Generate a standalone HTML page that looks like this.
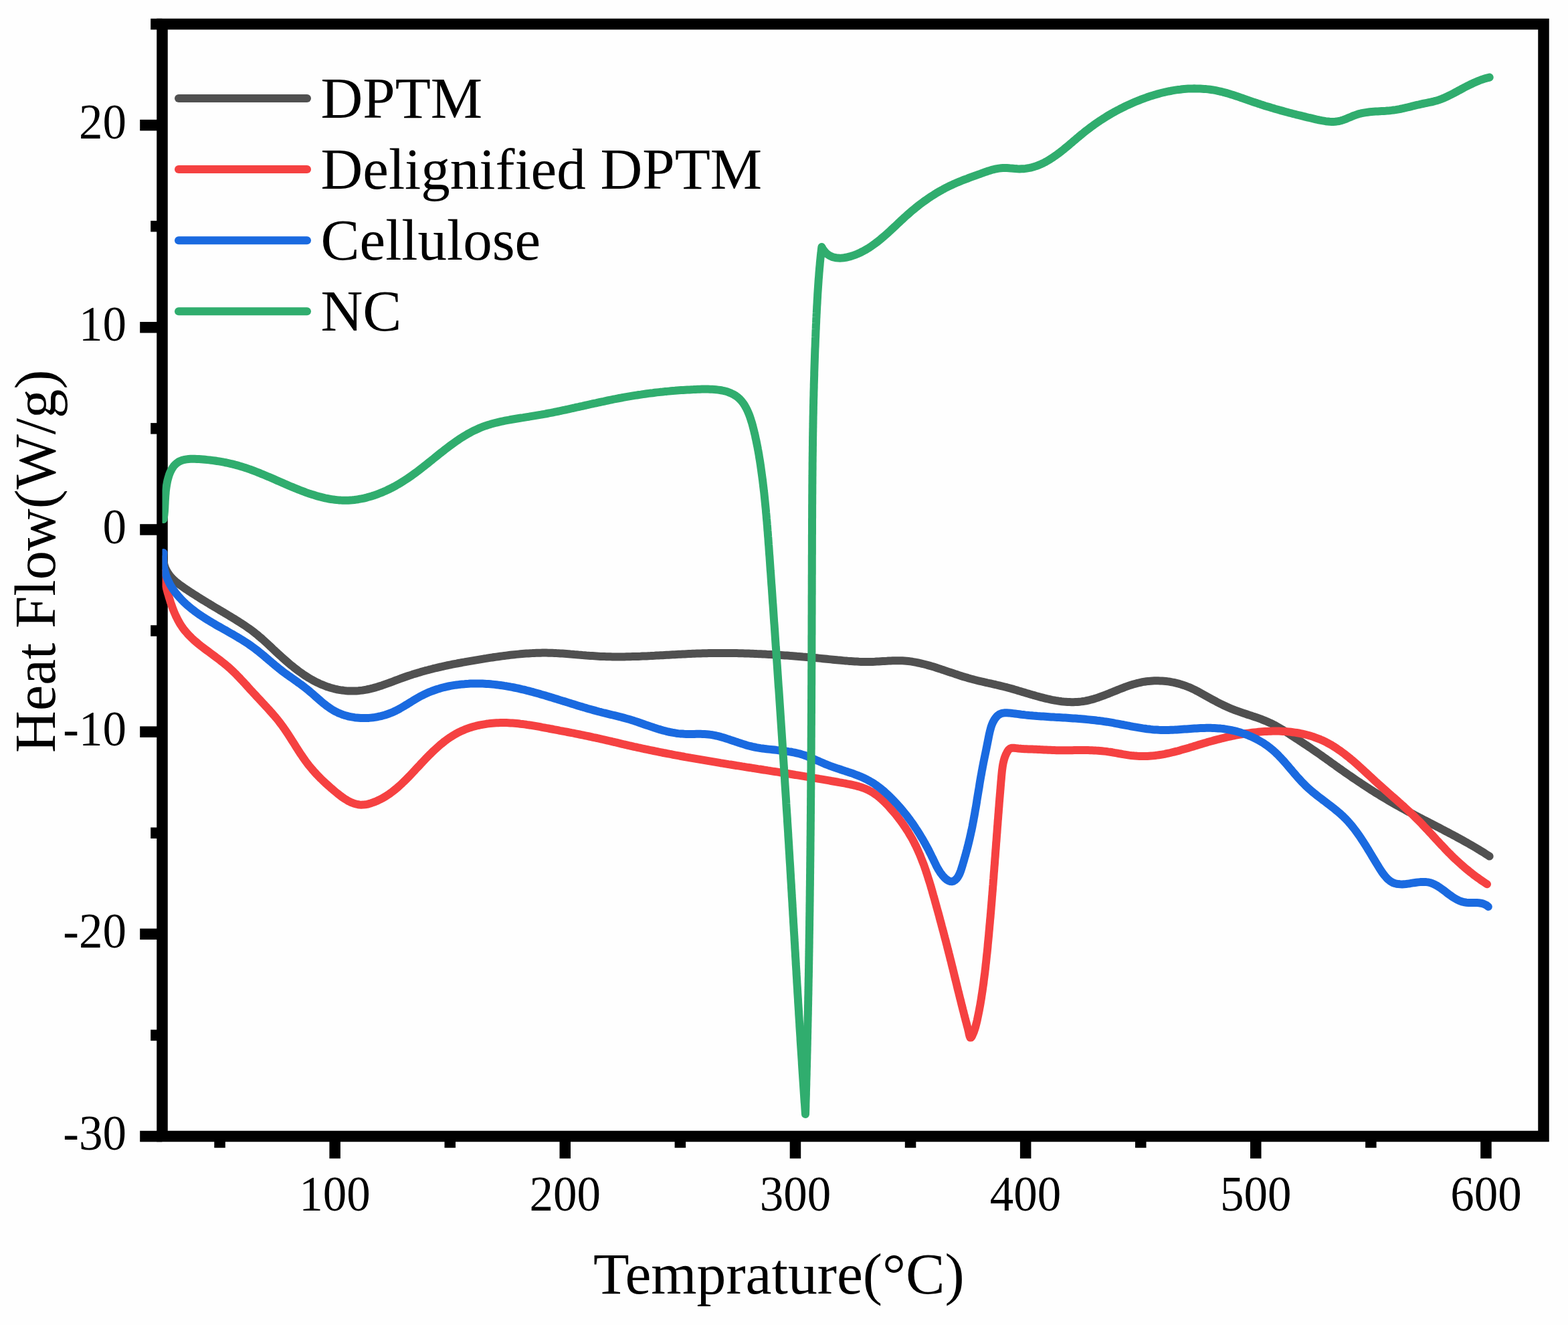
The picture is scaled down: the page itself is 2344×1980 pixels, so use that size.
<!DOCTYPE html>
<html><head><meta charset="utf-8"><title>Heat Flow vs Temperature</title>
<style>
html,body{margin:0;padding:0;background:#fff;}
body{width:2344px;height:1980px;overflow:hidden;}
svg{display:block;}
text{font-family:"Liberation Serif","Times New Roman",serif;fill:#000;}
</style></head><body>
<svg xmlns="http://www.w3.org/2000/svg" width="2344" height="1980" viewBox="0 0 2344 1980">
<rect width="2344" height="1980" fill="#fefefe"/>
<g fill="#000">
<rect x="320.3" y="1698" width="16.5" height="17.2"/>
<rect x="492.4" y="1698" width="16.5" height="33.2"/>
<rect x="664.5" y="1698" width="16.5" height="17.2"/>
<rect x="836.5" y="1698" width="16.5" height="33.2"/>
<rect x="1008.6" y="1698" width="16.5" height="17.2"/>
<rect x="1180.7" y="1698" width="16.5" height="33.2"/>
<rect x="1352.8" y="1698" width="16.5" height="17.2"/>
<rect x="1524.9" y="1698" width="16.5" height="33.2"/>
<rect x="1697" y="1698" width="16.5" height="17.2"/>
<rect x="1869" y="1698" width="16.5" height="33.2"/>
<rect x="2041.1" y="1698" width="16.5" height="17.2"/>
<rect x="2213.2" y="1698" width="16.5" height="33.2"/>
<rect x="209.2" y="1689.8" width="33.2" height="16.5"/>
<rect x="225.2" y="1538.7" width="17.2" height="16.5"/>
<rect x="209.2" y="1387.6" width="33.2" height="16.5"/>
<rect x="225.2" y="1236.5" width="17.2" height="16.5"/>
<rect x="209.2" y="1085.4" width="33.2" height="16.5"/>
<rect x="225.2" y="934.3" width="17.2" height="16.5"/>
<rect x="209.2" y="783.2" width="33.2" height="16.5"/>
<rect x="225.2" y="632.1" width="17.2" height="16.5"/>
<rect x="209.2" y="481" width="33.2" height="16.5"/>
<rect x="225.2" y="329.9" width="17.2" height="16.5"/>
<rect x="209.2" y="178.8" width="33.2" height="16.5"/>
<rect x="225.2" y="27.8" width="17.2" height="16.5"/>
</g>
<rect x="242.5" y="36" width="2065" height="1662" fill="none" stroke="#000" stroke-width="16.5"/>
<g font-size="71" text-anchor="middle">
<text transform="translate(500.6,1808.5) scale(1,1.055)">100</text>
<text transform="translate(844.8,1808.5) scale(1,1.055)">200</text>
<text transform="translate(1189,1808.5) scale(1,1.055)">300</text>
<text transform="translate(1533.1,1808.5) scale(1,1.055)">400</text>
<text transform="translate(1877.3,1808.5) scale(1,1.055)">500</text>
<text transform="translate(2221.5,1808.5) scale(1,1.055)">600</text>
</g>
<g font-size="71" text-anchor="end">
<text transform="translate(189,1718) scale(1,1.055)">-30</text>
<text transform="translate(189,1415.8) scale(1,1.055)">-20</text>
<text transform="translate(189,1113.6) scale(1,1.055)">-10</text>
<text transform="translate(189,811.5) scale(1,1.055)">0</text>
<text transform="translate(189,509.3) scale(1,1.055)">10</text>
<text transform="translate(189,207.1) scale(1,1.055)">20</text>
</g>
<text x="887" y="1932.6" font-size="87.7">Temprature(°C)</text>
<text transform="translate(81.7,1125.1) rotate(-90)" font-size="87">Heat Flow(W/g)</text>
<defs><clipPath id="pc"><rect x="242.5" y="36" width="2065" height="1662"/></clipPath></defs>
<g fill="none" stroke-width="12" stroke-linecap="round" stroke-linejoin="round" clip-path="url(#pc)">
<path d="M244.0 836.0L244.5 839.4L245.2 842.6L246.0 845.7L247.1 848.6L248.3 851.3L249.7 854.0L251.2 856.4L252.8 858.8L254.6 861.1L256.5 863.2L258.5 865.3L260.6 867.3L262.7 869.2L265.0 871.0L267.3 872.8L269.6 874.5L272.0 876.2L274.4 877.9L276.8 879.6L279.3 881.2L281.7 882.9L284.2 884.5L286.7 886.1L289.2 887.7L291.7 889.3L294.2 890.9L296.8 892.5L299.3 894.1L301.8 895.7L304.4 897.2L306.9 898.8L309.5 900.4L312.1 901.9L314.6 903.5L317.2 905.0L319.8 906.6L322.4 908.1L325.0 909.6L327.6 911.2L330.2 912.7L332.8 914.3L335.4 915.8L338.0 917.4L340.5 918.9L343.1 920.5L345.7 922.0L348.3 923.6L350.9 925.2L353.5 926.8L356.0 928.4L358.5 930.0L361.1 931.6L363.6 933.2L366.1 934.9L368.6 936.6L371.0 938.3L373.5 940.0L375.9 941.8L378.2 943.6L380.6 945.4L382.9 947.3L385.2 949.1L387.5 951.1L389.8 953.0L392.0 954.9L394.2 956.9L396.4 958.9L398.6 960.9L400.8 962.9L403.0 965.0L405.2 967.0L407.3 969.1L409.5 971.1L411.7 973.2L413.9 975.2L416.1 977.3L418.3 979.3L420.6 981.3L422.8 983.4L425.1 985.4L427.4 987.4L429.7 989.4L432.0 991.4L434.3 993.3L436.7 995.2L439.1 997.2L441.4 999.0L443.9 1000.9L446.3 1002.7L448.8 1004.5L451.2 1006.2L453.7 1008.0L456.2 1009.6L458.8 1011.3L461.3 1012.9L463.9 1014.4L466.5 1015.9L469.2 1017.3L471.8 1018.7L474.5 1020.1L477.2 1021.3L479.9 1022.6L482.7 1023.7L485.4 1024.8L488.2 1025.9L491.1 1026.8L493.9 1027.7L496.8 1028.5L499.7 1029.3L502.6 1030.0L505.5 1030.6L508.5 1031.1L511.5 1031.5L514.5 1031.9L517.5 1032.2L520.5 1032.4L523.5 1032.5L526.6 1032.6L529.6 1032.5L532.6 1032.4L535.6 1032.2L538.6 1031.9L541.6 1031.6L544.5 1031.1L547.5 1030.6L550.4 1030.0L553.3 1029.4L556.2 1028.7L559.1 1027.9L562.0 1027.1L564.8 1026.2L567.7 1025.3L570.6 1024.4L573.4 1023.4L576.2 1022.4L579.1 1021.4L581.9 1020.4L584.7 1019.3L587.5 1018.3L590.4 1017.2L593.2 1016.1L596.0 1015.1L598.8 1014.0L601.7 1013.0L604.5 1012.0L607.3 1011.0L610.2 1010.0L613.0 1009.1L615.9 1008.2L618.7 1007.2L621.6 1006.4L624.5 1005.5L627.3 1004.7L630.2 1003.8L633.1 1003.0L635.9 1002.2L638.8 1001.5L641.7 1000.7L644.6 1000.0L647.5 999.2L650.4 998.5L653.3 997.8L656.2 997.1L659.1 996.5L662.0 995.8L664.9 995.2L667.8 994.5L670.8 993.9L673.7 993.3L676.6 992.7L679.5 992.1L682.5 991.6L685.4 991.0L688.4 990.5L691.3 989.9L694.3 989.4L697.2 988.8L700.2 988.3L703.1 987.8L706.1 987.3L709.0 986.8L712.0 986.3L715.0 985.8L717.9 985.3L720.9 984.8L723.9 984.3L726.9 983.9L729.8 983.4L732.8 982.9L735.8 982.5L738.8 982.0L741.8 981.6L744.8 981.2L747.8 980.8L750.8 980.4L753.8 980.0L756.8 979.6L759.8 979.2L762.8 978.8L765.8 978.5L768.8 978.2L771.8 977.9L774.8 977.6L777.8 977.3L780.8 977.0L783.8 976.8L786.8 976.6L789.8 976.4L792.8 976.2L795.8 976.1L798.8 975.9L801.8 975.8L804.8 975.7L807.8 975.7L810.8 975.6L813.8 975.6L816.8 975.6L819.8 975.7L822.8 975.7L825.8 975.8L828.8 975.9L831.8 976.1L834.8 976.2L837.8 976.4L840.8 976.6L843.7 976.8L846.7 977.0L849.7 977.2L852.7 977.5L855.7 977.7L858.7 978.0L861.7 978.2L864.7 978.5L867.7 978.7L870.6 979.0L873.6 979.2L876.6 979.5L879.6 979.7L882.6 979.9L885.6 980.1L888.6 980.3L891.6 980.5L894.6 980.7L897.6 980.9L900.5 981.0L903.5 981.1L906.5 981.2L909.5 981.3L912.5 981.3L915.5 981.4L918.5 981.4L921.5 981.4L924.5 981.5L927.5 981.4L930.5 981.4L933.5 981.4L936.5 981.3L939.5 981.3L942.5 981.2L945.5 981.1L948.5 981.1L951.5 981.0L954.5 980.9L957.5 980.8L960.5 980.6L963.5 980.5L966.5 980.4L969.5 980.2L972.5 980.1L975.5 979.9L978.5 979.8L981.5 979.6L984.5 979.5L987.5 979.3L990.5 979.2L993.5 979.0L996.5 978.8L999.5 978.7L1002.5 978.5L1005.5 978.3L1008.5 978.2L1011.5 978.0L1014.5 977.8L1017.5 977.7L1020.5 977.5L1023.5 977.4L1026.5 977.2L1029.5 977.1L1032.5 977.0L1035.5 976.8L1038.5 976.7L1041.5 976.6L1044.5 976.5L1047.5 976.4L1050.5 976.3L1053.5 976.2L1056.5 976.2L1059.5 976.1L1062.5 976.1L1065.5 976.0L1068.5 976.0L1071.5 976.0L1074.5 975.9L1077.5 975.9L1080.5 975.9L1083.5 975.9L1086.4 976.0L1089.4 976.0L1092.4 976.0L1095.4 976.0L1098.4 976.1L1101.4 976.1L1104.4 976.2L1107.4 976.3L1110.4 976.3L1113.4 976.4L1116.4 976.5L1119.4 976.6L1122.4 976.7L1125.4 976.8L1128.4 976.9L1131.4 977.1L1134.4 977.2L1137.4 977.3L1140.3 977.5L1143.3 977.6L1146.3 977.8L1149.3 977.9L1152.3 978.1L1155.3 978.3L1158.3 978.4L1161.3 978.6L1164.3 978.8L1167.3 979.0L1170.3 979.2L1173.3 979.4L1176.3 979.6L1179.3 979.8L1182.2 980.1L1185.2 980.3L1188.2 980.5L1191.2 980.8L1194.2 981.0L1197.2 981.2L1200.2 981.5L1203.2 981.7L1206.2 982.0L1209.2 982.3L1212.2 982.5L1215.2 982.8L1218.2 983.1L1221.2 983.3L1224.2 983.6L1227.1 983.9L1230.1 984.2L1233.1 984.5L1236.1 984.8L1239.1 985.1L1242.1 985.4L1245.1 985.7L1248.1 986.0L1251.1 986.3L1254.1 986.6L1257.1 986.8L1260.1 987.1L1263.1 987.4L1266.1 987.6L1269.0 987.9L1272.0 988.1L1275.0 988.3L1278.0 988.5L1281.0 988.6L1284.0 988.8L1287.0 988.9L1289.9 988.9L1292.9 989.0L1295.9 989.0L1298.9 989.0L1301.8 989.0L1304.8 988.9L1307.8 988.8L1310.7 988.6L1313.7 988.5L1316.7 988.3L1319.6 988.1L1322.6 987.9L1325.6 987.8L1328.5 987.6L1331.5 987.4L1334.4 987.3L1337.4 987.2L1340.3 987.2L1343.3 987.2L1346.2 987.2L1349.1 987.3L1352.1 987.5L1355.0 987.7L1358.0 988.0L1360.9 988.4L1363.8 988.8L1366.8 989.3L1369.7 989.9L1372.6 990.5L1375.6 991.1L1378.5 991.8L1381.4 992.5L1384.4 993.3L1387.3 994.1L1390.2 994.9L1393.1 995.7L1396.0 996.6L1398.9 997.5L1401.8 998.5L1404.8 999.4L1407.7 1000.4L1410.6 1001.3L1413.5 1002.3L1416.4 1003.3L1419.2 1004.3L1422.1 1005.2L1425.0 1006.2L1427.9 1007.2L1430.8 1008.1L1433.7 1009.1L1436.5 1010.0L1439.4 1010.9L1442.3 1011.8L1445.1 1012.6L1448.0 1013.5L1450.9 1014.3L1453.7 1015.0L1456.6 1015.8L1459.4 1016.5L1462.2 1017.2L1465.1 1017.9L1467.9 1018.5L1470.8 1019.2L1473.6 1019.8L1476.5 1020.5L1479.3 1021.1L1482.2 1021.7L1485.0 1022.4L1487.9 1023.0L1490.7 1023.7L1493.6 1024.4L1496.5 1025.1L1499.3 1025.8L1502.2 1026.5L1505.1 1027.2L1508.0 1028.0L1510.9 1028.8L1513.8 1029.6L1516.7 1030.5L1519.6 1031.3L1522.5 1032.2L1525.4 1033.0L1528.3 1033.9L1531.3 1034.8L1534.2 1035.7L1537.1 1036.5L1540.1 1037.4L1543.0 1038.3L1545.9 1039.1L1548.9 1040.0L1551.8 1040.8L1554.8 1041.6L1557.7 1042.3L1560.7 1043.1L1563.6 1043.8L1566.6 1044.5L1569.5 1045.2L1572.4 1045.8L1575.4 1046.3L1578.3 1046.9L1581.3 1047.3L1584.2 1047.8L1587.1 1048.2L1590.1 1048.5L1593.0 1048.7L1595.9 1049.0L1598.9 1049.1L1601.8 1049.2L1604.7 1049.2L1607.6 1049.1L1610.5 1049.0L1613.4 1048.7L1616.3 1048.4L1619.2 1048.0L1622.0 1047.6L1624.9 1047.0L1627.8 1046.4L1630.6 1045.6L1633.5 1044.9L1636.4 1044.0L1639.2 1043.1L1642.1 1042.2L1644.9 1041.2L1647.7 1040.2L1650.6 1039.1L1653.4 1038.0L1656.3 1036.9L1659.1 1035.7L1662.0 1034.6L1664.8 1033.4L1667.6 1032.3L1670.5 1031.1L1673.3 1030.0L1676.2 1028.9L1679.0 1027.8L1681.9 1026.7L1684.8 1025.7L1687.6 1024.7L1690.5 1023.7L1693.4 1022.8L1696.3 1022.0L1699.2 1021.2L1702.1 1020.5L1705.0 1019.8L1707.9 1019.2L1710.9 1018.7L1713.8 1018.3L1716.7 1017.9L1719.7 1017.7L1722.6 1017.5L1725.6 1017.3L1728.5 1017.3L1731.5 1017.3L1734.4 1017.4L1737.4 1017.5L1740.3 1017.7L1743.2 1018.0L1746.2 1018.4L1749.1 1018.8L1752.0 1019.4L1754.9 1019.9L1757.8 1020.6L1760.7 1021.3L1763.6 1022.1L1766.4 1023.0L1769.3 1023.9L1772.1 1024.9L1774.9 1026.0L1777.8 1027.1L1780.5 1028.3L1783.3 1029.6L1786.1 1030.9L1788.8 1032.3L1791.5 1033.7L1794.2 1035.2L1796.9 1036.7L1799.6 1038.2L1802.3 1039.7L1805.0 1041.2L1807.7 1042.7L1810.4 1044.2L1813.0 1045.7L1815.7 1047.1L1818.4 1048.6L1821.1 1050.0L1823.8 1051.4L1826.5 1052.7L1829.2 1054.0L1832.0 1055.3L1834.7 1056.5L1837.5 1057.7L1840.3 1058.9L1843.0 1060.0L1845.8 1061.1L1848.6 1062.1L1851.5 1063.1L1854.3 1064.1L1857.1 1065.1L1859.9 1066.1L1862.8 1067.0L1865.6 1068.0L1868.4 1068.9L1871.3 1069.8L1874.1 1070.8L1876.9 1071.7L1879.7 1072.7L1882.5 1073.7L1885.3 1074.7L1888.1 1075.8L1890.8 1076.9L1893.6 1078.0L1896.3 1079.2L1899.0 1080.4L1901.7 1081.7L1904.3 1083.0L1906.9 1084.4L1909.5 1085.9L1912.1 1087.4L1914.6 1088.9L1917.2 1090.4L1919.7 1092.0L1922.3 1093.6L1924.8 1095.2L1927.3 1096.8L1929.8 1098.5L1932.3 1100.1L1934.8 1101.8L1937.3 1103.4L1939.9 1105.1L1942.4 1106.7L1944.9 1108.4L1947.4 1110.0L1949.9 1111.7L1952.5 1113.3L1955.0 1115.0L1957.5 1116.7L1960.0 1118.4L1962.4 1120.1L1964.9 1121.8L1967.4 1123.5L1969.8 1125.2L1972.3 1126.9L1974.8 1128.6L1977.2 1130.4L1979.6 1132.1L1982.1 1133.8L1984.5 1135.6L1987.0 1137.3L1989.4 1139.1L1991.8 1140.8L1994.3 1142.5L1996.7 1144.3L1999.1 1146.0L2001.6 1147.8L2004.0 1149.5L2006.5 1151.2L2008.9 1153.0L2011.4 1154.7L2013.8 1156.4L2016.3 1158.1L2018.8 1159.8L2021.2 1161.5L2023.7 1163.2L2026.2 1164.9L2028.7 1166.6L2031.2 1168.3L2033.7 1169.9L2036.2 1171.6L2038.7 1173.2L2041.2 1174.9L2043.7 1176.5L2046.2 1178.1L2048.7 1179.8L2051.3 1181.4L2053.8 1183.0L2056.3 1184.6L2058.9 1186.2L2061.4 1187.7L2064.0 1189.3L2066.6 1190.9L2069.1 1192.4L2071.7 1193.9L2074.3 1195.5L2076.9 1197.0L2079.5 1198.5L2082.1 1200.0L2084.7 1201.5L2087.3 1203.0L2089.9 1204.4L2092.5 1205.9L2095.2 1207.3L2097.8 1208.8L2100.4 1210.2L2103.1 1211.7L2105.7 1213.1L2108.4 1214.5L2111.0 1215.9L2113.7 1217.3L2116.3 1218.7L2119.0 1220.1L2121.6 1221.5L2124.3 1222.9L2127.0 1224.3L2129.6 1225.7L2132.3 1227.0L2135.0 1228.4L2137.6 1229.8L2140.3 1231.2L2143.0 1232.6L2145.6 1233.9L2148.3 1235.3L2151.0 1236.7L2153.6 1238.1L2156.3 1239.5L2158.9 1240.9L2161.6 1242.3L2164.3 1243.7L2166.9 1245.1L2169.6 1246.5L2172.2 1247.9L2174.8 1249.3L2177.5 1250.7L2180.1 1252.2L2182.8 1253.6L2185.4 1255.0L2188.0 1256.5L2190.6 1258.0L2193.2 1259.4L2195.8 1260.9L2198.5 1262.4L2201.0 1263.9L2203.6 1265.4L2206.2 1266.9L2208.8 1268.5L2211.4 1270.0L2213.9 1271.6L2216.5 1273.2L2219.0 1274.7L2221.6 1276.4L2224.1 1278.0L2226.6 1279.6" stroke="#505050"/>
<path d="M243.0 857.0L243.8 859.8L244.6 862.7L245.3 865.6L246.1 868.5L246.9 871.4L247.6 874.3L248.4 877.3L249.2 880.2L250.0 883.1L250.8 886.1L251.7 889.0L252.5 891.9L253.4 894.8L254.3 897.7L255.2 900.6L256.2 903.5L257.2 906.3L258.2 909.2L259.3 912.0L260.4 914.7L261.6 917.5L262.8 920.2L264.1 922.8L265.4 925.5L266.8 928.0L268.2 930.6L269.7 933.1L271.3 935.5L272.9 937.9L274.6 940.2L276.4 942.5L278.3 944.7L280.2 946.9L282.1 949.0L284.2 951.1L286.2 953.1L288.4 955.1L290.5 957.1L292.8 959.0L295.0 960.9L297.3 962.8L299.6 964.7L302.0 966.5L304.3 968.3L306.7 970.1L309.1 971.9L311.6 973.7L314.0 975.5L316.4 977.3L318.9 979.1L321.3 980.9L323.7 982.7L326.1 984.5L328.5 986.3L330.9 988.2L333.3 990.1L335.7 992.0L338.0 993.9L340.3 995.8L342.5 997.8L344.8 999.8L347.0 1001.9L349.1 1003.9L351.3 1006.0L353.4 1008.1L355.5 1010.3L357.6 1012.4L359.6 1014.6L361.7 1016.8L363.7 1019.0L365.8 1021.2L367.8 1023.4L369.8 1025.6L371.8 1027.9L373.8 1030.1L375.9 1032.3L377.9 1034.5L379.9 1036.7L382.0 1038.9L384.0 1041.1L386.1 1043.3L388.1 1045.5L390.2 1047.7L392.2 1049.9L394.3 1052.1L396.3 1054.3L398.4 1056.5L400.4 1058.7L402.4 1060.9L404.4 1063.2L406.4 1065.4L408.4 1067.7L410.3 1069.9L412.3 1072.2L414.2 1074.5L416.1 1076.9L417.9 1079.2L419.7 1081.6L421.5 1084.0L423.3 1086.5L425.0 1088.9L426.7 1091.4L428.4 1093.9L430.1 1096.4L431.8 1099.0L433.4 1101.5L435.0 1104.0L436.6 1106.6L438.3 1109.1L439.9 1111.7L441.5 1114.2L443.1 1116.8L444.7 1119.3L446.3 1121.9L448.0 1124.4L449.6 1126.9L451.3 1129.3L453.0 1131.8L454.7 1134.2L456.4 1136.7L458.1 1139.0L459.9 1141.4L461.7 1143.7L463.6 1146.0L465.5 1148.3L467.4 1150.5L469.3 1152.7L471.3 1154.9L473.3 1157.1L475.3 1159.2L477.4 1161.3L479.5 1163.5L481.6 1165.5L483.8 1167.6L486.0 1169.7L488.3 1171.8L490.5 1173.8L492.8 1175.8L495.2 1177.9L497.6 1179.9L500.0 1182.0L502.4 1184.0L504.9 1186.0L507.4 1188.0L509.9 1189.9L512.5 1191.8L515.1 1193.6L517.8 1195.2L520.4 1196.8L523.2 1198.2L525.9 1199.4L528.7 1200.5L531.5 1201.4L534.3 1202.0L537.2 1202.5L540.1 1202.7L543.0 1202.6L546.0 1202.3L548.9 1201.8L551.8 1201.1L554.8 1200.2L557.7 1199.2L560.5 1198.1L563.3 1197.0L566.0 1195.7L568.7 1194.4L571.4 1193.0L574.0 1191.5L576.5 1190.0L579.0 1188.4L581.5 1186.7L583.9 1185.0L586.3 1183.2L588.7 1181.4L591.0 1179.5L593.3 1177.6L595.6 1175.6L597.8 1173.6L600.0 1171.6L602.2 1169.5L604.4 1167.4L606.5 1165.3L608.7 1163.2L610.8 1161.0L612.9 1158.8L615.0 1156.6L617.1 1154.4L619.2 1152.2L621.2 1149.9L623.3 1147.7L625.4 1145.5L627.5 1143.3L629.5 1141.0L631.6 1138.8L633.7 1136.6L635.8 1134.4L637.9 1132.2L640.0 1130.1L642.1 1127.9L644.3 1125.8L646.4 1123.7L648.6 1121.6L650.8 1119.6L653.0 1117.6L655.2 1115.6L657.4 1113.6L659.7 1111.7L662.0 1109.9L664.3 1108.0L666.7 1106.2L669.0 1104.5L671.4 1102.8L673.9 1101.2L676.4 1099.6L678.9 1098.1L681.4 1096.6L684.0 1095.2L686.6 1093.9L689.3 1092.6L692.0 1091.4L694.8 1090.2L697.6 1089.2L700.4 1088.2L703.2 1087.2L706.1 1086.3L709.0 1085.5L712.0 1084.7L714.9 1084.0L717.9 1083.4L720.9 1082.8L723.9 1082.3L726.9 1081.8L729.9 1081.4L732.9 1081.0L735.9 1080.7L739.0 1080.5L742.0 1080.3L745.0 1080.2L748.0 1080.1L751.1 1080.0L754.1 1080.0L757.1 1080.1L760.1 1080.2L763.1 1080.4L766.0 1080.6L769.0 1080.8L772.0 1081.0L775.0 1081.3L777.9 1081.7L780.9 1082.0L783.9 1082.4L786.8 1082.8L789.8 1083.3L792.8 1083.7L795.7 1084.2L798.7 1084.7L801.6 1085.2L804.6 1085.7L807.5 1086.2L810.4 1086.8L813.4 1087.3L816.3 1087.9L819.3 1088.4L822.2 1089.0L825.2 1089.5L828.1 1090.1L831.0 1090.6L834.0 1091.2L836.9 1091.8L839.9 1092.3L842.8 1092.9L845.7 1093.4L848.7 1094.0L851.6 1094.6L854.5 1095.2L857.5 1095.7L860.4 1096.3L863.3 1096.9L866.3 1097.5L869.2 1098.1L872.1 1098.7L875.1 1099.3L878.0 1099.9L880.9 1100.5L883.8 1101.1L886.7 1101.8L889.6 1102.4L892.6 1103.0L895.5 1103.7L898.4 1104.3L901.3 1105.0L904.2 1105.7L907.1 1106.3L910.0 1107.0L912.9 1107.7L915.8 1108.4L918.7 1109.0L921.6 1109.7L924.5 1110.4L927.4 1111.1L930.3 1111.8L933.2 1112.5L936.1 1113.1L939.0 1113.8L941.9 1114.5L944.8 1115.1L947.7 1115.8L950.7 1116.4L953.6 1117.1L956.5 1117.7L959.4 1118.3L962.3 1119.0L965.3 1119.6L968.2 1120.2L971.1 1120.8L974.0 1121.4L977.0 1122.0L979.9 1122.6L982.8 1123.2L985.8 1123.8L988.7 1124.4L991.6 1125.0L994.6 1125.5L997.5 1126.1L1000.5 1126.7L1003.4 1127.2L1006.3 1127.8L1009.3 1128.4L1012.2 1128.9L1015.2 1129.4L1018.1 1130.0L1021.1 1130.5L1024.0 1131.1L1027.0 1131.6L1029.9 1132.1L1032.9 1132.7L1035.8 1133.2L1038.8 1133.7L1041.7 1134.2L1044.7 1134.7L1047.6 1135.2L1050.6 1135.7L1053.5 1136.2L1056.5 1136.7L1059.4 1137.2L1062.4 1137.7L1065.3 1138.2L1068.3 1138.7L1071.2 1139.2L1074.2 1139.7L1077.1 1140.2L1080.1 1140.6L1083.0 1141.1L1086.0 1141.6L1088.9 1142.1L1091.9 1142.5L1094.8 1143.0L1097.8 1143.5L1100.7 1144.0L1103.7 1144.4L1106.6 1144.9L1109.6 1145.4L1112.5 1145.8L1115.5 1146.3L1118.4 1146.8L1121.4 1147.2L1124.3 1147.7L1127.3 1148.1L1130.2 1148.6L1133.1 1149.1L1136.1 1149.5L1139.0 1150.0L1142.0 1150.5L1144.9 1150.9L1147.9 1151.4L1150.8 1151.8L1153.8 1152.3L1156.7 1152.8L1159.7 1153.2L1162.6 1153.7L1165.6 1154.2L1168.5 1154.6L1171.5 1155.1L1174.4 1155.6L1177.4 1156.0L1180.3 1156.5L1183.3 1157.0L1186.2 1157.5L1189.1 1158.0L1192.1 1158.4L1195.1 1158.9L1198.0 1159.4L1201.0 1159.9L1203.9 1160.4L1206.9 1160.9L1209.8 1161.4L1212.8 1161.8L1215.7 1162.3L1218.7 1162.8L1221.7 1163.3L1224.6 1163.9L1227.6 1164.4L1230.6 1164.9L1233.5 1165.4L1236.5 1165.9L1239.5 1166.4L1242.5 1167.0L1245.4 1167.5L1248.4 1168.0L1251.4 1168.5L1254.4 1169.1L1257.4 1169.6L1260.4 1170.2L1263.4 1170.7L1266.4 1171.3L1269.4 1171.9L1272.3 1172.5L1275.3 1173.1L1278.3 1173.8L1281.2 1174.6L1284.1 1175.4L1286.9 1176.3L1289.8 1177.2L1292.5 1178.3L1295.3 1179.4L1298.0 1180.6L1300.6 1182.0L1303.2 1183.4L1305.7 1185.0L1308.2 1186.7L1310.6 1188.4L1313.0 1190.3L1315.3 1192.2L1317.6 1194.2L1319.8 1196.2L1322.0 1198.3L1324.2 1200.5L1326.3 1202.7L1328.4 1204.9L1330.4 1207.2L1332.4 1209.5L1334.4 1211.8L1336.4 1214.1L1338.4 1216.4L1340.3 1218.8L1342.2 1221.2L1344.0 1223.6L1345.8 1226.0L1347.6 1228.4L1349.4 1230.8L1351.1 1233.3L1352.8 1235.8L1354.4 1238.3L1356.1 1240.8L1357.7 1243.3L1359.2 1245.9L1360.7 1248.5L1362.2 1251.0L1363.7 1253.6L1365.1 1256.3L1366.5 1258.9L1367.8 1261.6L1369.2 1264.2L1370.4 1266.9L1371.7 1269.6L1372.9 1272.4L1374.1 1275.1L1375.3 1277.8L1376.4 1280.6L1377.5 1283.4L1378.6 1286.2L1379.7 1289.0L1380.8 1291.8L1381.8 1294.6L1382.8 1297.4L1383.8 1300.3L1384.7 1303.1L1385.7 1306.0L1386.6 1308.8L1387.5 1311.7L1388.4 1314.6L1389.3 1317.4L1390.2 1320.3L1391.1 1323.2L1391.9 1326.1L1392.8 1329.0L1393.6 1331.9L1394.4 1334.8L1395.2 1337.7L1396.1 1340.6L1396.9 1343.5L1397.7 1346.4L1398.5 1349.3L1399.3 1352.2L1400.1 1355.1L1400.9 1358.0L1401.7 1360.8L1402.5 1363.7L1403.3 1366.6L1404.1 1369.5L1404.8 1372.4L1405.6 1375.3L1406.4 1378.2L1407.2 1381.1L1407.9 1384.0L1408.7 1386.9L1409.5 1389.8L1410.3 1392.7L1411.0 1395.6L1411.8 1398.5L1412.5 1401.3L1413.3 1404.2L1414.1 1407.1L1414.8 1410.0L1415.6 1412.9L1416.3 1415.8L1417.0 1418.7L1417.8 1421.6L1418.5 1424.5L1419.3 1427.5L1420.0 1430.4L1420.7 1433.3L1421.5 1436.2L1422.2 1439.1L1422.9 1442.0L1423.6 1444.9L1424.4 1447.8L1425.1 1450.8L1425.8 1453.7L1426.5 1456.6L1427.2 1459.5L1427.9 1462.4L1428.7 1465.4L1429.4 1468.3L1430.1 1471.2L1430.8 1474.1L1431.5 1477.0L1432.2 1480.0L1433.0 1482.9L1433.7 1485.8L1434.4 1488.7L1435.1 1491.6L1435.9 1494.5L1436.6 1497.4L1437.3 1500.3L1438.0 1503.2L1438.8 1506.1L1439.5 1509.0L1440.3 1511.9L1441.0 1514.8L1441.7 1517.7L1442.5 1520.6L1443.2 1523.4L1444.0 1526.3L1444.8 1529.2L1445.5 1532.0L1446.3 1535.0L1447.1 1538.0L1447.9 1541.3L1448.6 1544.8L1449.4 1548.2L1450.4 1550.4L1451.6 1550.5L1453.1 1548.4L1454.5 1545.2L1455.8 1542.1L1456.8 1539.1L1457.8 1536.1L1458.6 1533.1L1459.4 1530.2L1460.1 1527.3L1460.8 1524.3L1461.4 1521.4L1462.0 1518.5L1462.6 1515.6L1463.2 1512.6L1463.8 1509.7L1464.3 1506.8L1464.9 1503.8L1465.4 1500.9L1465.9 1497.9L1466.4 1495.0L1466.9 1492.1L1467.3 1489.1L1467.8 1486.1L1468.2 1483.2L1468.7 1480.2L1469.1 1477.3L1469.5 1474.3L1470.0 1471.3L1470.4 1468.4L1470.7 1465.4L1471.1 1462.4L1471.5 1459.4L1471.9 1456.4L1472.3 1453.5L1472.6 1450.5L1473.0 1447.5L1473.3 1444.5L1473.6 1441.5L1474.0 1438.5L1474.3 1435.5L1474.6 1432.6L1474.9 1429.6L1475.2 1426.6L1475.6 1423.6L1475.9 1420.6L1476.2 1417.6L1476.5 1414.6L1476.7 1411.6L1477.0 1408.6L1477.3 1405.6L1477.6 1402.6L1477.9 1399.6L1478.2 1396.7L1478.4 1393.7L1478.7 1390.7L1479.0 1387.7L1479.2 1384.7L1479.5 1381.7L1479.8 1378.7L1480.0 1375.7L1480.3 1372.7L1480.6 1369.8L1480.8 1366.8L1481.1 1363.8L1481.3 1360.8L1481.6 1357.8L1481.8 1354.8L1482.1 1351.8L1482.3 1348.9L1482.6 1345.9L1482.8 1342.9L1483.0 1339.9L1483.3 1336.9L1483.5 1333.9L1483.8 1330.9L1484.0 1328.0L1484.2 1325.0L1484.5 1322.0L1484.7 1319.0L1484.9 1316.0L1485.2 1313.0L1485.4 1310.0L1485.6 1307.1L1485.8 1304.1L1486.1 1301.1L1486.3 1298.1L1486.5 1295.1L1486.8 1292.1L1487.0 1289.1L1487.2 1286.1L1487.4 1283.2L1487.7 1280.2L1487.9 1277.2L1488.1 1274.2L1488.3 1271.2L1488.6 1268.2L1488.8 1265.2L1489.0 1262.2L1489.2 1259.2L1489.5 1256.3L1489.7 1253.3L1489.9 1250.3L1490.1 1247.3L1490.4 1244.3L1490.6 1241.3L1490.8 1238.3L1491.0 1235.3L1491.3 1232.3L1491.5 1229.3L1491.7 1226.3L1492.0 1223.3L1492.2 1220.3L1492.4 1217.3L1492.7 1214.3L1492.9 1211.3L1493.1 1208.3L1493.4 1205.3L1493.6 1202.3L1493.8 1199.3L1494.1 1196.3L1494.3 1193.3L1494.6 1190.3L1494.8 1187.3L1495.1 1184.3L1495.3 1181.3L1495.6 1178.3L1495.8 1175.3L1496.1 1172.3L1496.3 1169.2L1496.6 1166.2L1496.9 1163.2L1497.1 1160.2L1497.4 1157.2L1497.7 1154.2L1498.0 1151.2L1498.4 1148.2L1498.8 1145.2L1499.3 1142.3L1499.9 1139.4L1500.6 1136.5L1501.4 1133.7L1502.3 1130.9L1503.4 1128.2L1504.7 1125.5L1506.1 1122.9L1507.7 1120.5L1509.8 1118.7L1512.5 1117.8L1515.7 1117.7L1519.1 1118.1L1522.4 1118.5L1525.6 1118.8L1528.6 1119.1L1531.6 1119.2L1534.5 1119.3L1537.3 1119.4L1540.1 1119.5L1543.0 1119.6L1545.9 1119.7L1548.8 1119.8L1551.8 1119.9L1554.8 1120.1L1557.8 1120.2L1560.8 1120.4L1563.9 1120.5L1566.9 1120.7L1570.0 1120.8L1573.0 1121.0L1576.1 1121.1L1579.1 1121.2L1582.2 1121.2L1585.2 1121.3L1588.2 1121.3L1591.2 1121.3L1594.1 1121.3L1597.1 1121.2L1600.0 1121.2L1603.0 1121.2L1605.9 1121.1L1608.9 1121.1L1611.8 1121.1L1614.8 1121.1L1617.7 1121.0L1620.6 1121.1L1623.6 1121.1L1626.5 1121.1L1629.5 1121.2L1632.4 1121.3L1635.4 1121.4L1638.4 1121.6L1641.4 1121.7L1644.4 1122.0L1647.4 1122.3L1650.5 1122.6L1653.6 1122.9L1656.6 1123.4L1659.7 1123.8L1662.9 1124.3L1666.0 1124.9L1669.1 1125.4L1672.3 1126.0L1675.4 1126.5L1678.6 1127.1L1681.7 1127.6L1684.8 1128.1L1687.9 1128.6L1691.0 1129.0L1694.1 1129.3L1697.2 1129.6L1700.2 1129.8L1703.2 1129.9L1706.2 1130.0L1709.2 1130.0L1712.2 1130.0L1715.1 1129.9L1718.1 1129.7L1721.0 1129.5L1723.9 1129.3L1726.8 1129.0L1729.6 1128.6L1732.5 1128.2L1735.3 1127.8L1738.2 1127.3L1741.0 1126.8L1743.8 1126.2L1746.7 1125.6L1749.5 1125.0L1752.3 1124.3L1755.1 1123.6L1757.9 1122.9L1760.7 1122.2L1763.5 1121.4L1766.3 1120.6L1769.1 1119.8L1771.9 1119.0L1774.7 1118.2L1777.5 1117.4L1780.3 1116.5L1783.2 1115.7L1786.0 1114.8L1788.8 1114.0L1791.7 1113.1L1794.5 1112.2L1797.4 1111.4L1800.2 1110.5L1803.1 1109.7L1806.0 1108.8L1808.9 1108.0L1811.9 1107.2L1814.8 1106.4L1817.7 1105.6L1820.7 1104.8L1823.7 1104.1L1826.7 1103.3L1829.7 1102.6L1832.7 1101.9L1835.7 1101.2L1838.7 1100.6L1841.7 1099.9L1844.7 1099.3L1847.8 1098.7L1850.8 1098.1L1853.9 1097.6L1856.9 1097.0L1860.0 1096.5L1863.0 1096.0L1866.1 1095.6L1869.2 1095.2L1872.2 1094.8L1875.3 1094.4L1878.4 1094.1L1881.4 1093.8L1884.5 1093.5L1887.5 1093.3L1890.6 1093.1L1893.6 1092.9L1896.7 1092.8L1899.7 1092.7L1902.8 1092.6L1905.8 1092.6L1908.8 1092.6L1911.8 1092.6L1914.8 1092.7L1917.8 1092.9L1920.8 1093.1L1923.8 1093.3L1926.7 1093.5L1929.7 1093.8L1932.6 1094.2L1935.6 1094.6L1938.5 1095.0L1941.4 1095.5L1944.3 1096.1L1947.1 1096.7L1950.0 1097.3L1952.8 1098.0L1955.6 1098.7L1958.4 1099.5L1961.2 1100.4L1964.0 1101.3L1966.7 1102.3L1969.4 1103.3L1972.1 1104.3L1974.8 1105.5L1977.5 1106.6L1980.1 1107.9L1982.7 1109.2L1985.3 1110.6L1987.8 1112.0L1990.4 1113.4L1992.9 1115.0L1995.4 1116.5L1997.9 1118.1L2000.3 1119.8L2002.8 1121.5L2005.2 1123.2L2007.6 1125.0L2010.0 1126.8L2012.4 1128.7L2014.7 1130.5L2017.1 1132.4L2019.4 1134.4L2021.8 1136.3L2024.1 1138.3L2026.4 1140.3L2028.7 1142.3L2031.0 1144.4L2033.2 1146.4L2035.5 1148.5L2037.8 1150.5L2040.0 1152.6L2042.3 1154.7L2044.5 1156.8L2046.8 1158.9L2049.0 1160.9L2051.3 1163.0L2053.5 1165.1L2055.7 1167.2L2058.0 1169.2L2060.2 1171.3L2062.5 1173.3L2064.7 1175.3L2066.9 1177.3L2069.2 1179.3L2071.4 1181.3L2073.7 1183.3L2075.9 1185.2L2078.2 1187.2L2080.4 1189.2L2082.6 1191.1L2084.9 1193.1L2087.1 1195.0L2089.3 1197.0L2091.5 1199.0L2093.7 1200.9L2095.9 1202.9L2098.2 1204.9L2100.3 1206.9L2102.5 1208.9L2104.7 1210.9L2106.9 1212.9L2109.1 1215.0L2111.2 1217.0L2113.4 1219.1L2115.5 1221.2L2117.6 1223.3L2119.8 1225.4L2121.9 1227.5L2124.0 1229.7L2126.1 1231.9L2128.1 1234.1L2130.2 1236.3L2132.3 1238.5L2134.4 1240.7L2136.4 1242.9L2138.5 1245.2L2140.6 1247.4L2142.6 1249.6L2144.7 1251.9L2146.7 1254.1L2148.8 1256.3L2150.9 1258.6L2152.9 1260.8L2155.0 1263.0L2157.1 1265.2L2159.2 1267.4L2161.2 1269.6L2163.3 1271.8L2165.4 1273.9L2167.6 1276.1L2169.7 1278.2L2171.8 1280.3L2173.9 1282.3L2176.1 1284.4L2178.3 1286.4L2180.5 1288.4L2182.7 1290.4L2184.9 1292.4L2187.1 1294.3L2189.3 1296.2L2191.6 1298.2L2193.9 1300.0L2196.2 1301.9L2198.5 1303.7L2200.9 1305.6L2203.2 1307.4L2205.6 1309.2L2208.0 1311.0L2210.4 1312.7L2212.9 1314.5L2215.4 1316.2L2217.9 1317.9L2220.4 1319.6L2223.0 1321.3" stroke="#f54141"/>
<path d="M244.5 826.0L244.2 829.2L244.0 832.5L244.0 835.6L244.1 838.7L244.3 841.8L244.6 844.9L245.1 847.9L245.7 850.8L246.4 853.7L247.2 856.6L248.1 859.4L249.1 862.2L250.2 865.0L251.4 867.6L252.7 870.3L254.0 872.9L255.5 875.5L257.0 878.0L258.6 880.5L260.3 882.9L262.1 885.3L263.9 887.6L265.8 889.9L267.7 892.1L269.7 894.3L271.7 896.5L273.8 898.6L275.9 900.6L278.1 902.7L280.3 904.6L282.5 906.5L284.8 908.4L287.1 910.3L289.4 912.1L291.8 913.9L294.2 915.6L296.6 917.3L299.0 919.0L301.5 920.6L304.0 922.3L306.5 923.9L309.0 925.5L311.6 927.0L314.2 928.6L316.7 930.1L319.3 931.6L321.9 933.2L324.5 934.7L327.1 936.2L329.8 937.6L332.4 939.1L335.0 940.6L337.7 942.1L340.3 943.6L342.9 945.1L345.5 946.6L348.2 948.1L350.8 949.6L353.4 951.1L356.0 952.7L358.6 954.2L361.1 955.8L363.7 957.4L366.2 959.0L368.8 960.6L371.3 962.3L373.7 964.0L376.2 965.7L378.6 967.5L381.0 969.3L383.4 971.1L385.8 972.9L388.1 974.8L390.5 976.7L392.8 978.6L395.1 980.5L397.3 982.5L399.6 984.4L401.9 986.4L404.2 988.3L406.5 990.3L408.8 992.2L411.0 994.1L413.4 996.0L415.7 997.9L418.0 999.8L420.4 1001.6L422.7 1003.4L425.1 1005.2L427.5 1007.0L430.0 1008.7L432.4 1010.5L434.8 1012.2L437.3 1013.9L439.7 1015.6L442.2 1017.4L444.6 1019.1L447.0 1020.9L449.5 1022.6L451.9 1024.4L454.3 1026.2L456.7 1028.1L459.1 1030.0L461.4 1031.9L463.7 1033.9L466.0 1035.8L468.3 1037.8L470.6 1039.9L472.9 1041.9L475.2 1043.9L477.5 1045.9L479.8 1047.9L482.1 1049.8L484.5 1051.8L486.9 1053.6L489.2 1055.4L491.7 1057.2L494.1 1058.9L496.7 1060.5L499.2 1062.0L501.8 1063.4L504.5 1064.7L507.2 1065.9L510.0 1067.0L512.8 1068.1L515.6 1069.0L518.5 1069.8L521.4 1070.6L524.3 1071.2L527.2 1071.7L530.2 1072.2L533.2 1072.6L536.2 1072.8L539.3 1073.0L542.3 1073.1L545.3 1073.1L548.4 1073.1L551.4 1072.9L554.5 1072.6L557.5 1072.3L560.5 1071.9L563.6 1071.3L566.6 1070.7L569.5 1070.1L572.5 1069.3L575.4 1068.5L578.4 1067.5L581.2 1066.5L584.1 1065.4L586.9 1064.3L589.6 1063.0L592.4 1061.7L595.1 1060.3L597.7 1058.9L600.3 1057.4L602.9 1055.9L605.5 1054.3L608.1 1052.8L610.7 1051.2L613.2 1049.6L615.8 1048.0L618.4 1046.4L620.9 1044.9L623.5 1043.4L626.1 1041.9L628.7 1040.4L631.4 1039.1L634.0 1037.7L636.7 1036.5L639.4 1035.3L642.1 1034.1L644.9 1033.0L647.7 1032.0L650.5 1031.0L653.3 1030.0L656.1 1029.2L659.0 1028.3L661.8 1027.5L664.7 1026.8L667.6 1026.1L670.5 1025.5L673.4 1024.9L676.4 1024.4L679.3 1023.9L682.3 1023.5L685.3 1023.1L688.2 1022.7L691.2 1022.4L694.2 1022.2L697.2 1021.9L700.2 1021.8L703.2 1021.6L706.2 1021.5L709.2 1021.5L712.2 1021.4L715.2 1021.5L718.2 1021.5L721.3 1021.6L724.3 1021.7L727.3 1021.9L730.3 1022.1L733.3 1022.3L736.3 1022.6L739.3 1022.9L742.2 1023.2L745.2 1023.6L748.2 1024.0L751.1 1024.4L754.1 1024.9L757.0 1025.3L759.9 1025.8L762.9 1026.4L765.8 1026.9L768.7 1027.5L771.6 1028.1L774.5 1028.7L777.4 1029.4L780.3 1030.1L783.2 1030.7L786.1 1031.4L788.9 1032.2L791.8 1032.9L794.7 1033.7L797.6 1034.4L800.4 1035.2L803.3 1036.0L806.2 1036.8L809.0 1037.7L811.9 1038.5L814.8 1039.3L817.6 1040.2L820.5 1041.1L823.4 1041.9L826.2 1042.8L829.1 1043.7L832.0 1044.6L834.9 1045.5L837.7 1046.4L840.6 1047.3L843.5 1048.1L846.4 1049.0L849.2 1049.9L852.1 1050.8L855.0 1051.7L857.9 1052.6L860.8 1053.5L863.7 1054.4L866.5 1055.3L869.4 1056.1L872.3 1057.0L875.2 1057.8L878.1 1058.7L881.0 1059.5L883.9 1060.3L886.8 1061.1L889.7 1061.9L892.6 1062.7L895.5 1063.5L898.4 1064.2L901.3 1065.0L904.2 1065.7L907.1 1066.4L910.0 1067.1L912.9 1067.8L915.8 1068.5L918.7 1069.2L921.6 1069.9L924.5 1070.6L927.4 1071.3L930.3 1072.1L933.2 1072.9L936.1 1073.7L939.0 1074.5L941.8 1075.3L944.7 1076.2L947.6 1077.1L950.4 1078.1L953.3 1079.0L956.1 1080.0L959.0 1081.0L961.8 1082.0L964.6 1083.0L967.5 1083.9L970.3 1084.9L973.2 1085.9L976.0 1086.8L978.9 1087.8L981.8 1088.7L984.6 1089.6L987.5 1090.4L990.4 1091.3L993.3 1092.0L996.2 1092.8L999.1 1093.5L1002.0 1094.1L1004.9 1094.7L1007.9 1095.2L1010.8 1095.7L1013.8 1096.1L1016.8 1096.4L1019.8 1096.6L1022.8 1096.8L1025.8 1096.9L1028.9 1096.9L1031.9 1096.9L1035.0 1096.9L1038.0 1096.9L1041.1 1096.8L1044.1 1096.8L1047.2 1096.8L1050.2 1096.9L1053.2 1097.0L1056.2 1097.2L1059.2 1097.5L1062.1 1097.9L1065.1 1098.3L1068.0 1098.9L1070.9 1099.5L1073.8 1100.2L1076.6 1100.9L1079.5 1101.7L1082.4 1102.6L1085.2 1103.5L1088.0 1104.4L1090.9 1105.3L1093.7 1106.3L1096.5 1107.2L1099.3 1108.2L1102.2 1109.1L1105.0 1110.1L1107.9 1111.0L1110.7 1111.9L1113.6 1112.8L1116.4 1113.7L1119.3 1114.5L1122.2 1115.2L1125.1 1115.9L1128.1 1116.5L1131.0 1117.1L1134.0 1117.6L1136.9 1118.1L1139.9 1118.5L1142.9 1118.9L1145.9 1119.3L1148.9 1119.6L1151.9 1119.9L1155.0 1120.2L1158.0 1120.5L1161.0 1120.9L1164.0 1121.2L1167.0 1121.5L1170.0 1121.8L1173.0 1122.2L1176.0 1122.6L1179.0 1123.1L1181.9 1123.5L1184.9 1124.1L1187.8 1124.6L1190.7 1125.3L1193.6 1126.0L1196.5 1126.7L1199.3 1127.6L1202.2 1128.5L1205.0 1129.5L1207.7 1130.6L1210.5 1131.7L1213.3 1132.8L1216.0 1134.0L1218.8 1135.2L1221.5 1136.4L1224.3 1137.6L1227.1 1138.9L1229.8 1140.1L1232.6 1141.3L1235.4 1142.4L1238.2 1143.5L1241.0 1144.6L1243.9 1145.6L1246.7 1146.6L1249.6 1147.6L1252.5 1148.6L1255.4 1149.5L1258.2 1150.5L1261.1 1151.4L1264.0 1152.4L1266.9 1153.3L1269.7 1154.3L1272.6 1155.2L1275.4 1156.2L1278.3 1157.3L1281.1 1158.3L1283.9 1159.4L1286.6 1160.6L1289.4 1161.8L1292.1 1163.0L1294.8 1164.3L1297.4 1165.7L1300.0 1167.1L1302.6 1168.6L1305.2 1170.2L1307.7 1171.8L1310.1 1173.5L1312.6 1175.3L1315.0 1177.1L1317.3 1179.0L1319.7 1180.9L1322.0 1182.9L1324.2 1184.9L1326.5 1187.0L1328.7 1189.0L1330.9 1191.1L1333.0 1193.3L1335.1 1195.4L1337.2 1197.6L1339.3 1199.8L1341.3 1202.0L1343.3 1204.2L1345.3 1206.5L1347.3 1208.7L1349.2 1211.0L1351.1 1213.4L1353.0 1215.7L1354.9 1218.0L1356.7 1220.4L1358.5 1222.8L1360.3 1225.2L1362.0 1227.6L1363.8 1230.1L1365.5 1232.5L1367.2 1235.0L1368.8 1237.5L1370.5 1240.0L1372.1 1242.5L1373.7 1245.0L1375.3 1247.6L1376.8 1250.2L1378.4 1252.7L1379.9 1255.3L1381.4 1257.9L1382.9 1260.5L1384.3 1263.2L1385.8 1265.8L1387.2 1268.4L1388.6 1271.1L1389.9 1273.8L1391.3 1276.5L1392.6 1279.2L1394.0 1281.9L1395.3 1284.6L1396.6 1287.3L1397.9 1290.0L1399.2 1292.7L1400.6 1295.4L1402.0 1298.0L1403.6 1300.6L1405.2 1303.2L1407.0 1305.7L1408.9 1308.2L1411.0 1310.5L1413.2 1312.8L1415.6 1314.7L1418.0 1316.2L1420.6 1317.1L1423.1 1317.3L1425.6 1316.6L1428.0 1315.0L1430.3 1312.7L1432.3 1309.9L1433.9 1307.0L1435.2 1304.0L1436.3 1301.1L1437.2 1298.3L1438.1 1295.4L1439.0 1292.5L1439.8 1289.7L1440.7 1286.8L1441.5 1283.9L1442.3 1281.0L1443.2 1278.2L1443.9 1275.3L1444.7 1272.4L1445.5 1269.5L1446.2 1266.7L1447.0 1263.8L1447.7 1260.9L1448.4 1258.0L1449.1 1255.1L1449.8 1252.2L1450.4 1249.3L1451.1 1246.4L1451.7 1243.4L1452.4 1240.5L1453.0 1237.6L1453.6 1234.6L1454.1 1231.7L1454.7 1228.7L1455.3 1225.8L1455.8 1222.8L1456.4 1219.8L1456.9 1216.9L1457.4 1213.9L1457.9 1210.9L1458.5 1207.9L1459.0 1205.0L1459.5 1202.0L1460.0 1199.0L1460.4 1196.0L1460.9 1193.0L1461.4 1190.0L1461.9 1187.1L1462.4 1184.1L1462.9 1181.1L1463.4 1178.2L1463.9 1175.2L1464.3 1172.2L1464.8 1169.3L1465.3 1166.3L1465.8 1163.4L1466.3 1160.4L1466.9 1157.5L1467.4 1154.6L1467.9 1151.6L1468.5 1148.7L1469.0 1145.8L1469.6 1142.9L1470.1 1140.0L1470.7 1137.2L1471.3 1134.3L1471.9 1131.4L1472.5 1128.5L1473.1 1125.6L1473.7 1122.7L1474.3 1119.7L1474.9 1116.8L1475.5 1113.8L1476.1 1110.8L1476.7 1107.8L1477.3 1104.8L1477.9 1101.7L1478.5 1098.6L1479.2 1095.5L1479.9 1092.5L1480.7 1089.5L1481.5 1086.5L1482.5 1083.6L1483.6 1080.9L1484.9 1078.2L1486.3 1075.7L1487.9 1073.3L1489.7 1071.1L1491.7 1069.1L1494.0 1067.5L1496.5 1066.3L1499.3 1065.6L1502.2 1065.3L1505.3 1065.3L1508.3 1065.4L1511.4 1065.7L1514.5 1066.1L1517.6 1066.5L1520.7 1066.9L1523.7 1067.3L1526.7 1067.7L1529.7 1068.0L1532.7 1068.4L1535.7 1068.7L1538.7 1069.0L1541.7 1069.2L1544.6 1069.5L1547.6 1069.7L1550.6 1070.0L1553.6 1070.2L1556.5 1070.4L1559.5 1070.6L1562.5 1070.8L1565.5 1071.0L1568.4 1071.2L1571.4 1071.4L1574.4 1071.6L1577.4 1071.8L1580.3 1071.9L1583.3 1072.1L1586.3 1072.3L1589.3 1072.5L1592.3 1072.6L1595.2 1072.8L1598.2 1073.0L1601.2 1073.2L1604.2 1073.4L1607.2 1073.6L1610.1 1073.8L1613.1 1074.1L1616.1 1074.3L1619.1 1074.5L1622.1 1074.8L1625.0 1075.1L1628.0 1075.4L1631.0 1075.7L1634.0 1076.0L1637.0 1076.3L1640.0 1076.7L1642.9 1077.0L1645.9 1077.4L1648.9 1077.8L1651.9 1078.3L1654.9 1078.7L1657.8 1079.2L1660.8 1079.7L1663.8 1080.2L1666.8 1080.8L1669.8 1081.3L1672.7 1081.9L1675.7 1082.5L1678.7 1083.0L1681.7 1083.6L1684.7 1084.2L1687.6 1084.7L1690.6 1085.3L1693.6 1085.9L1696.6 1086.4L1699.6 1086.9L1702.5 1087.4L1705.5 1087.9L1708.5 1088.4L1711.5 1088.8L1714.4 1089.2L1717.4 1089.5L1720.4 1089.9L1723.4 1090.2L1726.3 1090.4L1729.3 1090.6L1732.3 1090.8L1735.2 1090.9L1738.2 1090.9L1741.2 1091.0L1744.1 1090.9L1747.1 1090.9L1750.1 1090.8L1753.0 1090.7L1756.0 1090.6L1759.0 1090.4L1762.0 1090.2L1764.9 1090.0L1767.9 1089.8L1770.9 1089.6L1773.8 1089.4L1776.8 1089.2L1779.8 1089.0L1782.7 1088.8L1785.7 1088.6L1788.7 1088.4L1791.7 1088.2L1794.6 1088.1L1797.6 1088.0L1800.6 1087.9L1803.6 1087.8L1806.5 1087.8L1809.5 1087.8L1812.5 1087.9L1815.5 1088.0L1818.5 1088.2L1821.4 1088.4L1824.4 1088.6L1827.4 1088.9L1830.4 1089.3L1833.4 1089.8L1836.4 1090.3L1839.4 1090.9L1842.4 1091.5L1845.3 1092.2L1848.3 1092.9L1851.2 1093.7L1854.1 1094.6L1857.1 1095.6L1859.9 1096.5L1862.8 1097.6L1865.7 1098.7L1868.5 1099.9L1871.3 1101.1L1874.0 1102.4L1876.8 1103.7L1879.5 1105.1L1882.1 1106.6L1884.7 1108.1L1887.3 1109.6L1889.9 1111.3L1892.3 1112.9L1894.8 1114.7L1897.2 1116.5L1899.5 1118.3L1901.8 1120.2L1904.1 1122.1L1906.3 1124.1L1908.4 1126.2L1910.5 1128.2L1912.6 1130.4L1914.7 1132.5L1916.7 1134.7L1918.7 1136.9L1920.7 1139.1L1922.6 1141.3L1924.6 1143.6L1926.5 1145.9L1928.4 1148.2L1930.4 1150.4L1932.3 1152.7L1934.2 1155.0L1936.2 1157.3L1938.2 1159.6L1940.1 1161.8L1942.2 1164.0L1944.2 1166.3L1946.2 1168.5L1948.3 1170.6L1950.5 1172.8L1952.6 1174.9L1954.8 1177.0L1957.1 1179.0L1959.4 1181.0L1961.7 1183.0L1964.0 1184.9L1966.4 1186.8L1968.8 1188.7L1971.2 1190.6L1973.7 1192.5L1976.1 1194.3L1978.5 1196.2L1981.0 1198.0L1983.4 1199.9L1985.8 1201.7L1988.2 1203.5L1990.6 1205.4L1993.0 1207.2L1995.3 1209.1L1997.6 1211.0L1999.9 1212.9L2002.2 1214.8L2004.4 1216.8L2006.5 1218.7L2008.6 1220.7L2010.7 1222.8L2012.7 1224.8L2014.7 1226.9L2016.6 1229.1L2018.5 1231.2L2020.3 1233.4L2022.1 1235.6L2023.9 1237.9L2025.6 1240.1L2027.3 1242.4L2029.0 1244.8L2030.7 1247.1L2032.4 1249.5L2034.0 1251.9L2035.6 1254.3L2037.2 1256.8L2038.8 1259.3L2040.4 1261.8L2042.0 1264.3L2043.6 1266.9L2045.2 1269.5L2046.8 1272.1L2048.4 1274.8L2050.0 1277.4L2051.6 1280.1L2053.2 1282.8L2054.9 1285.5L2056.6 1288.3L2058.3 1291.1L2060.0 1293.9L2061.7 1296.7L2063.5 1299.5L2065.3 1302.3L2067.2 1305.0L2069.2 1307.6L2071.2 1310.0L2073.2 1312.3L2075.4 1314.4L2077.6 1316.2L2080.0 1317.8L2082.4 1319.1L2084.9 1320.0L2087.6 1320.7L2090.3 1321.1L2093.1 1321.3L2096.0 1321.4L2098.9 1321.2L2101.8 1321.0L2104.9 1320.6L2107.9 1320.2L2110.9 1319.7L2114.0 1319.2L2117.1 1318.8L2120.1 1318.4L2123.1 1318.1L2126.1 1317.9L2129.1 1317.9L2132.0 1318.1L2134.8 1318.4L2137.6 1319.0L2140.3 1319.9L2143.0 1321.0L2145.6 1322.2L2148.2 1323.6L2150.7 1325.2L2153.2 1326.9L2155.6 1328.6L2158.1 1330.4L2160.6 1332.3L2163.0 1334.2L2165.5 1336.1L2168.0 1337.9L2170.5 1339.7L2173.0 1341.4L2175.6 1342.9L2178.2 1344.4L2180.9 1345.7L2183.6 1346.8L2186.5 1347.7L2189.4 1348.3L2192.3 1348.7L2195.4 1348.9L2198.5 1349.0L2201.6 1349.0L2204.7 1349.0L2207.8 1349.1L2210.9 1349.3L2213.9 1349.7L2216.8 1350.4L2219.6 1351.5L2222.3 1352.9L2224.8 1354.9" stroke="#1a6ae0"/>
<path d="M244.5 776.0L244.9 773.2L245.3 770.3L245.6 767.5L245.9 764.6L246.1 761.6L246.3 758.7L246.4 755.7L246.6 752.7L246.7 749.6L246.9 746.6L247.1 743.5L247.3 740.4L247.6 737.3L247.8 734.2L248.2 731.1L248.6 728.0L249.1 724.8L249.7 721.7L250.3 718.6L251.1 715.5L252.0 712.4L252.9 709.5L254.0 706.6L255.3 703.8L256.7 701.2L258.2 698.7L259.8 696.4L261.7 694.4L263.7 692.5L265.8 690.9L268.1 689.5L270.6 688.4L273.3 687.5L276.0 686.9L278.9 686.4L281.9 686.0L284.9 685.8L288.0 685.7L291.1 685.8L294.2 685.9L297.4 686.1L300.5 686.3L303.6 686.5L306.6 686.8L309.7 687.1L312.7 687.4L315.7 687.8L318.6 688.1L321.5 688.5L324.5 689.0L327.3 689.4L330.2 689.9L333.1 690.4L335.9 691.0L338.7 691.5L341.6 692.2L344.4 692.8L347.1 693.4L349.9 694.1L352.7 694.9L355.5 695.6L358.3 696.4L361.0 697.2L363.8 698.1L366.6 699.0L369.3 699.9L372.1 700.9L374.9 701.8L377.7 702.9L380.4 703.9L383.2 705.0L386.0 706.1L388.8 707.2L391.6 708.4L394.4 709.5L397.3 710.7L400.1 711.9L402.9 713.1L405.7 714.3L408.6 715.6L411.4 716.8L414.2 718.1L417.1 719.3L419.9 720.5L422.8 721.8L425.6 723.0L428.5 724.3L431.3 725.5L434.2 726.7L437.1 727.9L439.9 729.1L442.8 730.2L445.7 731.4L448.5 732.5L451.4 733.6L454.3 734.7L457.2 735.8L460.1 736.8L462.9 737.8L465.8 738.7L468.7 739.6L471.6 740.5L474.5 741.4L477.4 742.2L480.3 742.9L483.2 743.6L486.1 744.3L489.0 744.9L491.9 745.5L494.8 746.0L497.7 746.4L500.6 746.8L503.5 747.1L506.4 747.4L509.3 747.6L512.2 747.7L515.1 747.8L518.0 747.8L520.9 747.7L523.8 747.5L526.7 747.3L529.6 747.0L532.5 746.6L535.4 746.2L538.2 745.7L541.1 745.2L544.0 744.6L546.9 743.9L549.7 743.1L552.6 742.3L555.4 741.5L558.3 740.6L561.1 739.6L563.9 738.6L566.7 737.5L569.5 736.4L572.3 735.3L575.1 734.1L577.8 732.8L580.5 731.5L583.3 730.2L586.0 728.8L588.7 727.4L591.4 725.9L594.0 724.4L596.7 722.9L599.3 721.3L601.9 719.7L604.5 718.0L607.1 716.4L609.6 714.7L612.1 713.0L614.7 711.2L617.2 709.4L619.6 707.6L622.1 705.8L624.6 704.0L627.0 702.1L629.4 700.3L631.8 698.4L634.2 696.5L636.6 694.6L639.0 692.7L641.4 690.8L643.8 688.9L646.2 687.0L648.6 685.0L650.9 683.1L653.3 681.2L655.7 679.3L658.0 677.4L660.4 675.6L662.8 673.7L665.2 671.8L667.6 670.0L669.9 668.2L672.3 666.4L674.7 664.6L677.2 662.8L679.6 661.1L682.0 659.4L684.5 657.7L686.9 656.1L689.4 654.4L691.9 652.9L694.4 651.3L696.9 649.8L699.5 648.3L702.0 646.9L704.6 645.5L707.2 644.2L709.8 642.9L712.5 641.7L715.1 640.5L717.8 639.3L720.5 638.2L723.3 637.2L726.1 636.2L728.9 635.3L731.7 634.4L734.5 633.6L737.4 632.8L740.2 632.0L743.1 631.3L746.0 630.6L749.0 629.9L751.9 629.3L754.8 628.7L757.8 628.1L760.8 627.6L763.8 627.0L766.8 626.5L769.8 626.0L772.8 625.5L775.8 625.0L778.8 624.5L781.8 624.1L784.8 623.6L787.8 623.1L790.8 622.7L793.8 622.2L796.9 621.7L799.9 621.2L802.9 620.7L805.8 620.2L808.8 619.7L811.8 619.1L814.8 618.6L817.8 618.0L820.7 617.4L823.7 616.9L826.6 616.3L829.6 615.7L832.5 615.1L835.5 614.5L838.4 613.8L841.4 613.2L844.3 612.6L847.2 612.0L850.2 611.3L853.1 610.7L856.0 610.0L858.9 609.4L861.8 608.7L864.8 608.1L867.7 607.4L870.6 606.8L873.5 606.1L876.4 605.5L879.3 604.8L882.2 604.2L885.1 603.5L888.0 602.9L890.9 602.3L893.8 601.6L896.8 601.0L899.7 600.4L902.6 599.8L905.5 599.1L908.4 598.5L911.3 597.9L914.2 597.3L917.1 596.7L920.0 596.2L922.9 595.6L925.8 595.0L928.8 594.5L931.7 593.9L934.6 593.4L937.5 592.9L940.5 592.4L943.4 591.9L946.3 591.4L949.3 590.9L952.2 590.5L955.1 590.0L958.1 589.6L961.0 589.1L964.0 588.7L967.0 588.3L969.9 587.9L972.9 587.5L975.9 587.2L978.8 586.8L981.8 586.4L984.8 586.1L987.8 585.8L990.8 585.5L993.8 585.1L996.8 584.9L999.9 584.6L1002.9 584.3L1005.9 584.0L1009.0 583.8L1012.0 583.5L1015.1 583.3L1018.1 583.1L1021.2 582.9L1024.3 582.7L1027.4 582.5L1030.5 582.4L1033.6 582.2L1036.7 582.1L1039.8 581.9L1042.9 581.8L1046.1 581.7L1049.2 581.6L1052.3 581.6L1055.4 581.6L1058.5 581.6L1061.6 581.7L1064.7 581.8L1067.7 582.0L1070.7 582.3L1073.7 582.6L1076.6 583.0L1079.5 583.5L1082.3 584.1L1085.0 584.8L1087.7 585.6L1090.3 586.6L1092.8 587.6L1095.3 588.8L1097.7 590.1L1100.0 591.5L1102.2 593.1L1104.2 594.8L1106.2 596.7L1108.1 598.8L1109.9 601.0L1111.6 603.3L1113.2 605.8L1114.7 608.4L1116.1 611.0L1117.4 613.8L1118.7 616.7L1119.9 619.6L1121.0 622.6L1122.0 625.7L1123.0 628.8L1124.0 631.9L1124.9 635.1L1125.7 638.2L1126.5 641.4L1127.3 644.5L1128.0 647.6L1128.8 650.7L1129.4 653.8L1130.1 656.8L1130.7 659.8L1131.3 662.8L1131.9 665.7L1132.5 668.6L1133.0 671.6L1133.6 674.5L1134.1 677.4L1134.6 680.3L1135.0 683.2L1135.5 686.1L1136.0 688.9L1136.4 691.8L1136.9 694.7L1137.3 697.6L1137.7 700.5L1138.1 703.5L1138.5 706.4L1138.9 709.3L1139.3 712.2L1139.7 715.1L1140.1 718.1L1140.4 721.0L1140.8 724.0L1141.1 726.9L1141.5 729.9L1141.8 732.8L1142.2 735.8L1142.5 738.7L1142.8 741.7L1143.1 744.7L1143.4 747.6L1143.7 750.6L1144.0 753.6L1144.3 756.6L1144.6 759.5L1144.9 762.5L1145.1 765.5L1145.4 768.5L1145.7 771.5L1145.9 774.5L1146.2 777.5L1146.5 780.5L1146.7 783.5L1147.0 786.5L1147.2 789.5L1147.4 792.5L1147.7 795.5L1147.9 798.5L1148.1 801.5L1148.4 804.5L1148.6 807.5L1148.8 810.5L1149.0 813.5L1149.3 816.5L1149.5 819.5L1149.7 822.5L1149.9 825.6L1150.1 828.6L1150.4 831.6L1150.6 834.6L1150.8 837.6L1151.0 840.6L1151.2 843.6L1151.4 846.6L1151.6 849.6L1151.8 852.7L1152.1 855.7L1152.3 858.7L1152.5 861.7L1152.7 864.7L1152.9 867.7L1153.1 870.7L1153.3 873.7L1153.6 876.7L1153.8 879.7L1154.0 882.7L1154.2 885.7L1154.4 888.7L1154.6 891.7L1154.8 894.7L1155.0 897.7L1155.2 900.8L1155.5 903.8L1155.7 906.8L1155.9 909.8L1156.1 912.8L1156.3 915.8L1156.5 918.8L1156.7 921.8L1156.9 924.8L1157.1 927.8L1157.3 930.8L1157.6 933.8L1157.8 936.8L1158.0 939.8L1158.2 942.8L1158.4 945.8L1158.6 948.8L1158.8 951.8L1159.0 954.8L1159.2 957.8L1159.4 960.8L1159.6 963.8L1159.8 966.8L1160.1 969.8L1160.3 972.8L1160.5 975.8L1160.7 978.8L1160.9 981.8L1161.1 984.8L1161.3 987.8L1161.5 990.8L1161.7 993.7L1161.9 996.7L1162.1 999.7L1162.3 1002.7L1162.5 1005.7L1162.7 1008.7L1162.9 1011.7L1163.1 1014.7L1163.3 1017.7L1163.5 1020.7L1163.7 1023.7L1163.9 1026.7L1164.2 1029.7L1164.4 1032.7L1164.6 1035.7L1164.8 1038.7L1165.0 1041.7L1165.2 1044.7L1165.4 1047.7L1165.6 1050.7L1165.8 1053.6L1166.0 1056.6L1166.2 1059.6L1166.4 1062.6L1166.6 1065.6L1166.8 1068.6L1167.0 1071.6L1167.2 1074.6L1167.4 1077.6L1167.6 1080.6L1167.8 1083.6L1168.0 1086.6L1168.2 1089.6L1168.4 1092.6L1168.6 1095.5L1168.8 1098.5L1169.0 1101.5L1169.2 1104.5L1169.4 1107.5L1169.6 1110.5L1169.8 1113.5L1169.9 1116.5L1170.1 1119.5L1170.3 1122.5L1170.5 1125.5L1170.7 1128.5L1170.9 1131.5L1171.1 1134.4L1171.3 1137.4L1171.5 1140.4L1171.7 1143.4L1171.9 1146.4L1172.1 1149.4L1172.3 1152.4L1172.5 1155.4L1172.7 1158.4L1172.9 1161.4L1173.1 1164.4L1173.2 1167.4L1173.4 1170.4L1173.6 1173.3L1173.8 1176.3L1174.0 1179.3L1174.2 1182.3L1174.4 1185.3L1174.6 1188.3L1174.8 1191.3L1175.0 1194.3L1175.2 1197.3L1175.3 1200.3L1175.5 1203.3L1175.7 1206.3L1175.9 1209.3L1176.1 1212.3L1176.3 1215.3L1176.5 1218.2L1176.7 1221.2L1176.9 1224.2L1177.0 1227.2L1177.2 1230.2L1177.4 1233.2L1177.6 1236.2L1177.8 1239.2L1178.0 1242.2L1178.2 1245.2L1178.3 1248.2L1178.5 1251.2L1178.7 1254.2L1178.9 1257.2L1179.1 1260.2L1179.3 1263.2L1179.4 1266.2L1179.6 1269.2L1179.8 1272.2L1180.0 1275.2L1180.2 1278.2L1180.3 1281.2L1180.5 1284.1L1180.7 1287.1L1180.9 1290.1L1181.1 1293.1L1181.3 1296.1L1181.4 1299.1L1181.6 1302.1L1181.8 1305.1L1182.0 1308.1L1182.1 1311.1L1182.3 1314.1L1182.5 1317.1L1182.7 1320.1L1182.9 1323.1L1183.0 1326.1L1183.2 1329.1L1183.4 1332.1L1183.6 1335.1L1183.7 1338.1L1183.9 1341.1L1184.1 1344.1L1184.3 1347.1L1184.5 1350.1L1184.6 1353.1L1184.8 1356.1L1185.0 1359.1L1185.2 1362.1L1185.3 1365.1L1185.5 1368.1L1185.7 1371.1L1185.9 1374.1L1186.0 1377.1L1186.2 1380.1L1186.4 1383.1L1186.6 1386.1L1186.7 1389.1L1186.9 1392.1L1187.1 1395.1L1187.3 1398.1L1187.5 1401.1L1187.6 1404.1L1187.8 1407.2L1188.0 1410.2L1188.2 1413.2L1188.3 1416.2L1188.5 1419.2L1188.7 1422.2L1188.9 1425.2L1189.0 1428.2L1189.2 1431.2L1189.4 1434.2L1189.6 1437.2L1189.7 1440.2L1189.9 1443.2L1190.1 1446.2L1190.3 1449.2L1190.5 1452.2L1190.6 1455.2L1190.8 1458.2L1191.0 1461.2L1191.2 1464.2L1191.3 1467.2L1191.5 1470.2L1191.7 1473.2L1191.9 1476.2L1192.1 1479.2L1192.2 1482.2L1192.4 1485.2L1192.6 1488.2L1192.8 1491.2L1193.0 1494.2L1193.1 1497.2L1193.3 1500.2L1193.5 1503.2L1193.7 1506.2L1193.9 1509.2L1194.1 1512.2L1194.2 1515.2L1194.4 1518.2L1194.6 1521.2L1194.8 1524.2L1195.0 1527.2L1195.2 1530.2L1195.3 1533.2L1195.5 1536.2L1195.7 1539.2L1195.9 1542.2L1196.1 1545.2L1196.3 1548.2L1196.5 1551.2L1196.6 1554.2L1196.8 1557.2L1197.0 1560.2L1197.2 1563.2L1197.4 1566.2L1197.6 1569.2L1197.8 1572.2L1198.0 1575.2L1198.2 1578.2L1198.4 1581.2L1198.6 1584.2L1198.8 1587.2L1198.9 1590.2L1199.1 1593.2L1199.3 1596.2L1199.5 1599.2L1199.7 1602.1L1199.9 1605.1L1200.1 1608.1L1200.3 1611.1L1200.5 1614.1L1200.7 1617.1L1200.9 1620.1L1201.1 1623.1L1201.3 1626.1L1201.5 1629.1L1201.7 1632.1L1201.9 1635.1L1202.1 1638.1L1202.3 1641.1L1202.5 1644.1L1202.7 1647.1L1203.0 1650.0L1203.2 1653.0L1203.4 1656.0L1203.6 1659.0L1203.8 1662.0L1204.0 1665.0L1204.1 1662.0L1204.2 1659.0L1204.3 1656.0L1204.4 1653.0L1204.4 1650.0L1204.5 1647.0L1204.6 1644.0L1204.7 1641.0L1204.8 1638.0L1204.9 1635.0L1204.9 1632.0L1205.0 1629.0L1205.1 1626.0L1205.2 1623.0L1205.3 1620.0L1205.3 1617.0L1205.4 1614.0L1205.5 1611.0L1205.6 1608.0L1205.7 1605.0L1205.7 1602.0L1205.8 1599.0L1205.9 1596.0L1206.0 1593.0L1206.0 1590.0L1206.1 1587.0L1206.2 1584.0L1206.3 1581.0L1206.3 1578.0L1206.4 1575.0L1206.5 1572.0L1206.6 1569.0L1206.6 1566.0L1206.7 1563.0L1206.8 1560.0L1206.8 1557.0L1206.9 1554.0L1207.0 1551.0L1207.0 1548.0L1207.1 1545.0L1207.2 1542.0L1207.2 1539.0L1207.3 1536.0L1207.4 1533.0L1207.4 1530.0L1207.5 1527.0L1207.6 1524.0L1207.6 1521.0L1207.7 1518.0L1207.8 1515.0L1207.8 1512.0L1207.9 1509.0L1207.9 1506.0L1208.0 1503.0L1208.1 1500.0L1208.1 1497.0L1208.2 1494.0L1208.2 1491.0L1208.3 1488.0L1208.4 1485.0L1208.4 1482.0L1208.5 1479.0L1208.5 1476.0L1208.6 1473.0L1208.6 1470.0L1208.7 1467.0L1208.7 1464.0L1208.8 1461.0L1208.9 1458.0L1208.9 1455.0L1209.0 1452.0L1209.0 1449.0L1209.1 1446.0L1209.1 1443.0L1209.2 1440.0L1209.2 1436.9L1209.3 1433.9L1209.3 1430.9L1209.4 1427.9L1209.4 1424.9L1209.5 1421.9L1209.5 1418.9L1209.6 1415.9L1209.6 1412.9L1209.7 1409.9L1209.7 1406.9L1209.7 1403.9L1209.8 1400.9L1209.8 1397.9L1209.9 1394.9L1209.9 1391.9L1210.0 1388.9L1210.0 1385.9L1210.1 1382.9L1210.1 1379.9L1210.1 1376.9L1210.2 1373.9L1210.2 1370.9L1210.3 1367.9L1210.3 1364.9L1210.4 1361.9L1210.4 1358.9L1210.4 1355.9L1210.5 1352.9L1210.5 1349.9L1210.6 1346.9L1210.6 1343.9L1210.6 1340.9L1210.7 1337.9L1210.7 1334.9L1210.7 1331.9L1210.8 1328.9L1210.8 1325.9L1210.9 1322.9L1210.9 1319.9L1210.9 1316.9L1211.0 1313.9L1211.0 1310.9L1211.0 1307.9L1211.1 1304.9L1211.1 1301.9L1211.1 1298.9L1211.2 1295.9L1211.2 1292.9L1211.2 1289.9L1211.3 1286.9L1211.3 1283.9L1211.3 1280.9L1211.4 1277.9L1211.4 1274.9L1211.4 1271.9L1211.5 1268.9L1211.5 1265.9L1211.5 1262.9L1211.5 1259.9L1211.6 1256.9L1211.6 1253.9L1211.6 1250.9L1211.7 1247.9L1211.7 1244.9L1211.7 1241.9L1211.8 1238.9L1211.8 1235.9L1211.8 1232.9L1211.8 1229.9L1211.9 1226.9L1211.9 1223.9L1211.9 1220.9L1211.9 1217.9L1212.0 1214.9L1212.0 1211.9L1212.0 1208.9L1212.0 1205.9L1212.1 1202.9L1212.1 1199.9L1212.1 1196.9L1212.1 1193.9L1212.2 1190.8L1212.2 1187.8L1212.2 1184.8L1212.2 1181.8L1212.3 1178.8L1212.3 1175.8L1212.3 1172.8L1212.3 1169.8L1212.3 1166.8L1212.4 1163.8L1212.4 1160.8L1212.4 1157.8L1212.4 1154.8L1212.4 1151.8L1212.5 1148.8L1212.5 1145.8L1212.5 1142.8L1212.5 1139.8L1212.5 1136.8L1212.6 1133.8L1212.6 1130.8L1212.6 1127.8L1212.6 1124.8L1212.6 1121.8L1212.7 1118.8L1212.7 1115.8L1212.7 1112.8L1212.7 1109.8L1212.7 1106.8L1212.7 1103.8L1212.8 1100.8L1212.8 1097.8L1212.8 1094.8L1212.8 1091.8L1212.8 1088.8L1212.8 1085.8L1212.9 1082.8L1212.9 1079.8L1212.9 1076.8L1212.9 1073.8L1212.9 1070.8L1212.9 1067.8L1213.0 1064.8L1213.0 1061.8L1213.0 1058.7L1213.0 1055.7L1213.0 1052.7L1213.0 1049.7L1213.0 1046.7L1213.1 1043.7L1213.1 1040.7L1213.1 1037.7L1213.1 1034.7L1213.1 1031.7L1213.1 1028.7L1213.1 1025.7L1213.2 1022.7L1213.2 1019.7L1213.2 1016.7L1213.2 1013.7L1213.2 1010.7L1213.2 1007.7L1213.2 1004.7L1213.2 1001.7L1213.3 998.7L1213.3 995.7L1213.3 992.7L1213.3 989.7L1213.3 986.7L1213.3 983.7L1213.3 980.7L1213.3 977.7L1213.4 974.7L1213.4 971.7L1213.4 968.7L1213.4 965.6L1213.4 962.6L1213.4 959.6L1213.4 956.6L1213.4 953.6L1213.4 950.6L1213.5 947.6L1213.5 944.6L1213.5 941.6L1213.5 938.6L1213.5 935.6L1213.5 932.6L1213.5 929.6L1213.5 926.6L1213.5 923.6L1213.5 920.6L1213.6 917.6L1213.6 914.6L1213.6 911.6L1213.6 908.6L1213.6 905.6L1213.6 902.6L1213.6 899.6L1213.6 896.6L1213.6 893.6L1213.6 890.6L1213.7 887.5L1213.7 884.5L1213.7 881.5L1213.7 878.5L1213.7 875.5L1213.7 872.5L1213.7 869.5L1213.7 866.5L1213.7 863.5L1213.7 860.5L1213.8 857.5L1213.8 854.5L1213.8 851.5L1213.8 848.5L1213.8 845.5L1213.8 842.5L1213.8 839.5L1213.8 836.5L1213.8 833.5L1213.8 830.5L1213.9 827.5L1213.9 824.4L1213.9 821.4L1213.9 818.4L1213.9 815.4L1213.9 812.4L1213.9 809.4L1213.9 806.4L1213.9 803.4L1213.9 800.4L1214.0 797.4L1214.0 794.4L1214.0 791.4L1214.0 788.4L1214.0 785.4L1214.0 782.4L1214.0 779.4L1214.0 776.4L1214.1 773.4L1214.1 770.4L1214.1 767.3L1214.1 764.3L1214.1 761.3L1214.1 758.3L1214.1 755.3L1214.2 752.3L1214.2 749.3L1214.2 746.3L1214.2 743.3L1214.2 740.3L1214.3 737.3L1214.3 734.3L1214.3 731.3L1214.3 728.3L1214.3 725.3L1214.4 722.3L1214.4 719.3L1214.4 716.3L1214.4 713.3L1214.5 710.3L1214.5 707.3L1214.5 704.3L1214.6 701.2L1214.6 698.2L1214.6 695.2L1214.6 692.2L1214.7 689.2L1214.7 686.2L1214.7 683.2L1214.8 680.2L1214.8 677.2L1214.9 674.2L1214.9 671.2L1214.9 668.2L1215.0 665.2L1215.0 662.2L1215.0 659.2L1215.1 656.2L1215.1 653.2L1215.2 650.2L1215.2 647.2L1215.3 644.2L1215.3 641.2L1215.4 638.2L1215.4 635.2L1215.5 632.2L1215.5 629.2L1215.6 626.2L1215.6 623.2L1215.7 620.2L1215.8 617.2L1215.8 614.2L1215.9 611.2L1215.9 608.2L1216.0 605.2L1216.1 602.2L1216.1 599.2L1216.2 596.2L1216.3 593.2L1216.4 590.2L1216.4 587.2L1216.5 584.2L1216.6 581.2L1216.7 578.2L1216.7 575.2L1216.8 572.2L1216.9 569.2L1217.0 566.2L1217.1 563.2L1217.2 560.2L1217.2 557.2L1217.3 554.2L1217.4 551.2L1217.5 548.2L1217.6 545.2L1217.7 542.2L1217.8 539.2L1217.9 536.2L1218.0 533.2L1218.1 530.2L1218.2 527.2L1218.3 524.2L1218.4 521.2L1218.6 518.2L1218.7 515.2L1218.8 512.2L1218.9 509.2L1219.0 506.2L1219.2 503.3L1219.3 500.3L1219.4 497.3L1219.5 494.3L1219.7 491.3L1219.8 488.3L1219.9 485.3L1220.1 482.3L1220.2 479.3L1220.3 476.3L1220.5 473.3L1220.6 470.3L1220.8 467.3L1220.9 464.3L1221.1 461.4L1221.2 458.4L1221.4 455.4L1221.6 452.4L1221.7 449.4L1221.9 446.4L1222.1 443.4L1222.2 440.4L1222.4 437.4L1222.6 434.5L1222.8 431.5L1223.0 428.5L1223.2 425.5L1223.4 422.5L1223.6 419.5L1223.8 416.6L1224.1 413.6L1224.3 410.6L1224.5 407.6L1224.8 404.6L1225.0 401.7L1225.3 398.7L1225.6 395.7L1225.8 392.7L1226.1 389.8L1226.4 386.8L1226.7 383.8L1227.0 380.9L1227.4 377.9L1227.7 374.9L1228.0 372.0L1228.4 369.0L1230.2 372.3L1232.3 375.1L1234.4 377.6L1236.7 379.7L1239.2 381.4L1241.7 382.8L1244.3 383.9L1247.1 384.7L1249.9 385.3L1252.7 385.6L1255.6 385.7L1258.5 385.5L1261.5 385.2L1264.4 384.8L1267.4 384.1L1270.3 383.4L1273.2 382.5L1276.0 381.6L1278.8 380.6L1281.6 379.5L1284.3 378.3L1287.0 377.0L1289.6 375.7L1292.2 374.3L1294.8 372.9L1297.3 371.3L1299.8 369.8L1302.3 368.1L1304.7 366.4L1307.1 364.7L1309.5 362.9L1311.9 361.1L1314.2 359.3L1316.5 357.4L1318.8 355.4L1321.1 353.5L1323.4 351.5L1325.7 349.5L1327.9 347.5L1330.2 345.4L1332.4 343.3L1334.6 341.3L1336.8 339.2L1339.1 337.1L1341.3 335.0L1343.5 332.9L1345.7 330.8L1347.9 328.8L1350.2 326.7L1352.4 324.6L1354.6 322.6L1356.9 320.6L1359.2 318.6L1361.4 316.6L1363.7 314.7L1366.0 312.8L1368.4 310.8L1370.7 309.0L1373.0 307.1L1375.4 305.3L1377.8 303.5L1380.2 301.7L1382.6 300.0L1385.0 298.3L1387.4 296.6L1389.9 294.9L1392.4 293.3L1394.9 291.7L1397.4 290.1L1399.9 288.5L1402.5 287.0L1405.1 285.5L1407.7 284.1L1410.3 282.6L1412.9 281.2L1415.6 279.9L1418.3 278.5L1421.0 277.2L1423.7 276.0L1426.4 274.7L1429.2 273.5L1432.0 272.3L1434.8 271.2L1437.6 270.0L1440.4 268.9L1443.2 267.8L1446.1 266.8L1448.9 265.7L1451.7 264.7L1454.5 263.7L1457.4 262.6L1460.2 261.6L1462.9 260.6L1465.7 259.7L1468.5 258.7L1471.2 257.7L1473.9 256.7L1476.6 255.8L1479.4 254.9L1482.1 254.1L1484.9 253.3L1487.6 252.7L1490.4 252.1L1493.3 251.6L1496.2 251.3L1499.1 251.1L1502.1 251.0L1505.2 251.1L1508.4 251.3L1511.5 251.6L1514.7 251.8L1517.9 252.1L1521.0 252.3L1524.1 252.4L1527.2 252.3L1530.2 252.2L1533.2 251.9L1536.2 251.4L1539.1 250.9L1541.9 250.3L1544.7 249.5L1547.5 248.6L1550.3 247.7L1553.0 246.6L1555.7 245.5L1558.4 244.3L1561.0 243.0L1563.6 241.6L1566.2 240.1L1568.7 238.6L1571.2 237.0L1573.8 235.4L1576.2 233.7L1578.7 232.0L1581.2 230.2L1583.6 228.4L1586.0 226.5L1588.4 224.6L1590.8 222.7L1593.2 220.7L1595.5 218.8L1597.9 216.8L1600.2 214.8L1602.6 212.8L1604.9 210.8L1607.3 208.8L1609.6 206.8L1612.0 204.9L1614.3 202.9L1616.6 201.0L1619.0 199.1L1621.3 197.2L1623.7 195.3L1626.1 193.5L1628.4 191.7L1630.8 189.9L1633.2 188.2L1635.6 186.4L1638.0 184.7L1640.4 183.1L1642.8 181.4L1645.3 179.8L1647.7 178.2L1650.2 176.6L1652.7 175.1L1655.1 173.5L1657.6 172.0L1660.2 170.5L1662.7 169.1L1665.2 167.6L1667.8 166.2L1670.4 164.8L1673.0 163.5L1675.6 162.1L1678.2 160.8L1680.9 159.5L1683.6 158.2L1686.3 156.9L1689.0 155.7L1691.7 154.5L1694.5 153.3L1697.3 152.1L1700.1 150.9L1702.9 149.8L1705.7 148.7L1708.6 147.6L1711.4 146.6L1714.3 145.5L1717.2 144.5L1720.1 143.6L1723.0 142.7L1726.0 141.8L1728.9 140.9L1731.8 140.1L1734.8 139.3L1737.7 138.5L1740.7 137.8L1743.6 137.2L1746.6 136.5L1749.6 136.0L1752.5 135.4L1755.5 134.9L1758.5 134.4L1761.5 134.0L1764.4 133.7L1767.4 133.3L1770.4 133.0L1773.4 132.8L1776.3 132.6L1779.3 132.5L1782.3 132.4L1785.3 132.3L1788.2 132.4L1791.2 132.4L1794.1 132.5L1797.1 132.7L1800.0 132.9L1803.0 133.1L1805.9 133.4L1808.8 133.8L1811.8 134.2L1814.7 134.7L1817.6 135.2L1820.5 135.8L1823.4 136.5L1826.3 137.1L1829.1 137.9L1832.0 138.6L1834.9 139.4L1837.7 140.3L1840.6 141.2L1843.5 142.1L1846.3 143.0L1849.2 143.9L1852.0 144.9L1854.8 145.9L1857.7 146.8L1860.5 147.8L1863.4 148.8L1866.2 149.8L1869.1 150.8L1871.9 151.8L1874.7 152.8L1877.6 153.7L1880.4 154.7L1883.3 155.6L1886.1 156.6L1889.0 157.5L1891.9 158.4L1894.7 159.2L1897.6 160.1L1900.5 161.0L1903.3 161.8L1906.2 162.7L1909.1 163.5L1911.9 164.3L1914.8 165.1L1917.7 165.9L1920.6 166.7L1923.5 167.5L1926.4 168.3L1929.3 169.0L1932.2 169.8L1935.1 170.5L1938.0 171.3L1940.9 172.0L1943.8 172.7L1946.7 173.4L1949.6 174.1L1952.5 174.9L1955.4 175.6L1958.3 176.2L1961.3 176.9L1964.2 177.6L1967.1 178.3L1970.0 179.0L1973.0 179.6L1975.9 180.2L1978.8 180.7L1981.7 181.2L1984.7 181.5L1987.6 181.8L1990.4 181.9L1993.3 181.9L1996.2 181.8L1999.1 181.4L2001.9 181.0L2004.7 180.3L2007.5 179.4L2010.3 178.4L2013.1 177.3L2015.9 176.1L2018.7 174.9L2021.5 173.7L2024.3 172.6L2027.2 171.6L2030.0 170.6L2032.9 169.8L2035.8 169.2L2038.7 168.6L2041.7 168.1L2044.6 167.7L2047.6 167.3L2050.6 167.0L2053.6 166.8L2056.5 166.6L2059.5 166.4L2062.5 166.2L2065.5 166.0L2068.5 165.9L2071.5 165.7L2074.5 165.4L2077.5 165.2L2080.4 164.9L2083.4 164.5L2086.3 164.1L2089.3 163.6L2092.2 163.1L2095.1 162.5L2098.0 161.8L2100.9 161.2L2103.8 160.5L2106.7 159.8L2109.6 159.1L2112.5 158.3L2115.4 157.6L2118.3 156.9L2121.2 156.3L2124.1 155.6L2127.0 155.0L2129.9 154.4L2132.8 153.8L2135.8 153.2L2138.7 152.6L2141.6 152.0L2144.4 151.2L2147.3 150.5L2150.1 149.6L2152.9 148.6L2155.7 147.6L2158.4 146.4L2161.1 145.2L2163.8 144.0L2166.5 142.7L2169.2 141.4L2171.9 140.0L2174.5 138.6L2177.2 137.2L2179.8 135.7L2182.5 134.3L2185.1 132.9L2187.8 131.4L2190.5 130.0L2193.2 128.6L2195.8 127.3L2198.5 126.0L2201.3 124.7L2204.0 123.4L2206.8 122.2L2209.5 121.1L2212.3 120.0L2215.1 118.9L2218.0 118.0L2220.9 117.1L2223.8 116.3L2226.7 115.6" stroke="#30ad6e"/>
</g>
<g fill="none" stroke-width="12" stroke-linecap="round">
<line x1="267" y1="147" x2="459" y2="147" stroke="#505050"/>
<line x1="267" y1="253.1" x2="459" y2="253.1" stroke="#f54141"/>
<line x1="267" y1="359.2" x2="459" y2="359.2" stroke="#1a6ae0"/>
<line x1="267" y1="465.3" x2="459" y2="465.3" stroke="#30ad6e"/>
</g>
<g font-size="87">
<text x="479.5" y="176">DPTM</text>
<text x="479.5" y="282.1">Delignified DPTM</text>
<text x="479.5" y="388.2">Cellulose</text>
<text x="479.5" y="494.3">NC</text>
</g>
</svg>
</body></html>
